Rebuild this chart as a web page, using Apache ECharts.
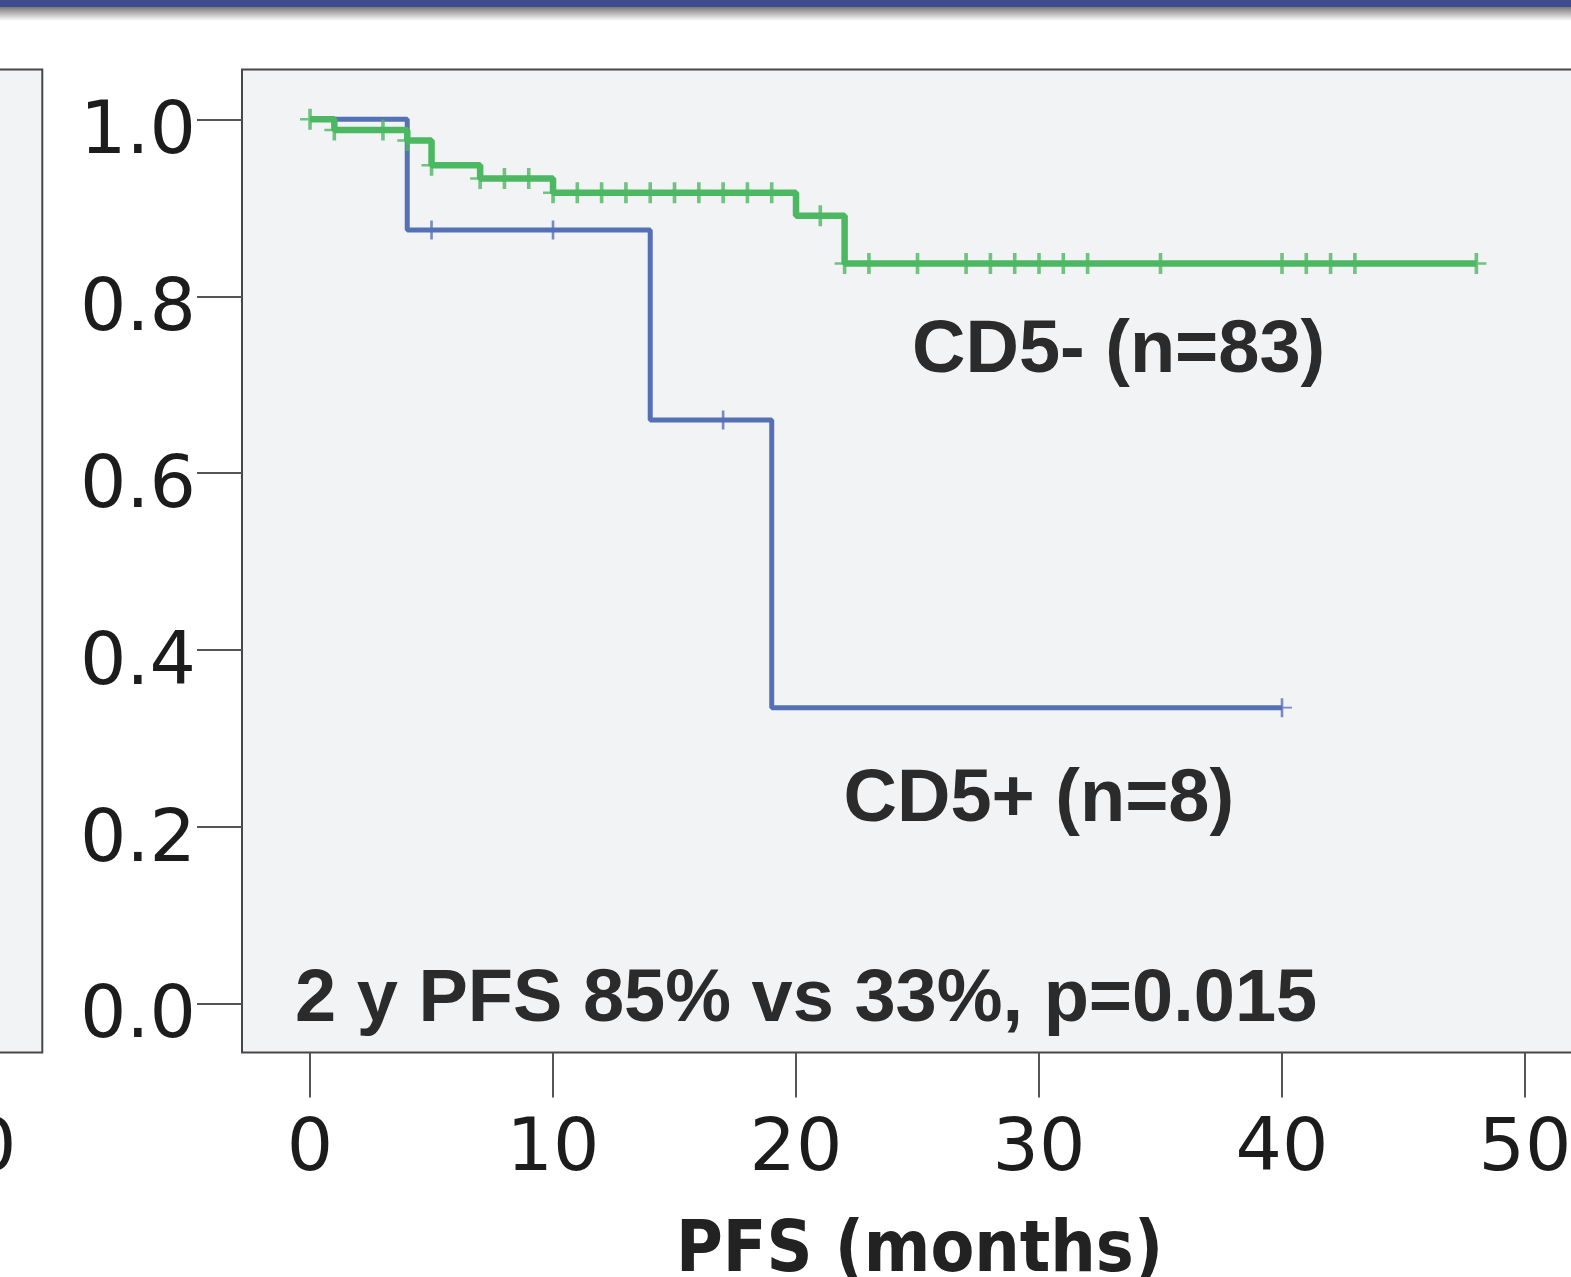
<!DOCTYPE html>
<html>
<head>
<meta charset="utf-8">
<script src="https://cdn.jsdelivr.net/npm/echarts@6/dist/echarts.min.js"></script>
<style>
html,body{margin:0;padding:0;background:#ffffff;overflow:hidden;width:1571px;height:1277px}
#c{width:1640px;height:1277px}
</style>
</head>
<body>
<div id="c"></div>
<script>
// ---- data ----
const xTicks = [0, 10, 20, 30, 40, 50];
const yTicks = [0, 0.2, 0.4, 0.6, 0.8, 1.0];

// CD5+ (n=8): event times (months) and survival after each step
const cd5PosTimes = [0, 4, 14, 19, 40];
const cd5PosSurv  = [1.0, 0.875, 0.66, 0.335, 0.335];
const cd5PosCensor = [5, 10, 17, 40];

// CD5- (n=83)
const cd5NegTimes = [0, 1, 4, 5, 7, 10, 20, 22, 48];
const cd5NegSurv  = [1.0, 0.988, 0.976, 0.948, 0.933, 0.917, 0.891, 0.837, 0.837];
const cd5NegCensor = [0, 1, 3, 4, 5, 7, 8, 9, 10, 11, 12, 13, 14, 15, 16, 17, 18, 19,
                      21, 22, 23, 25, 27, 28, 29, 30, 31, 32, 35, 40, 41, 42, 43, 48];

const labelNeg = 'CD5- (n=83)';
const labelPos = 'CD5+ (n=8)';
const statText = '2 y PFS 85% vs 33%, p=0.015';
const xName = 'PFS (months)';
const leftPanelTick = '50';

// ---- helpers ----
function stepValue(times, surv, t) {
  let v = surv[0];
  for (let i = 0; i < times.length; i++) if (times[i] <= t) v = surv[i];
  return v;
}
const curve = (times, surv) => times.map((t, i) => [t, surv[i]]);
const censors = (times, surv, cs) => cs.map(t => [t, stepValue(times, surv, t)]);

const GREEN = '#4cb862';
const BLUE = '#5571b6';
const plusThin = 'path://M-1.3,-10 L1.3,-10 L1.3,-1 L10,-1 L10,1 L1.3,1 L1.3,10 L-1.3,10 L-1.3,1 L-10,1 L-10,-1 L-1.3,-1 Z';
const plusThick = 'path://M-1.8,-10 L1.8,-10 L1.8,-1.2 L10,-1.2 L10,1.2 L1.8,1.2 L1.8,10 L-1.8,10 L-1.8,1.2 L-10,1.2 L-10,-1.2 L-1.8,-1.2 Z';

const chart = echarts.init(document.getElementById('c'), null, {renderer: 'canvas'});
const tickFont = {fontFamily: 'DejaVu Sans', fontSize: 73, color: '#1c1c1c'};
const boldFont = 'bold 74px "Liberation Sans", Arial, sans-serif';

chart.setOption({
  animation: false,
  backgroundColor: '#ffffff',
  grid: {
    left: 242, top: 69.5, width: 1369, bottom: 224.5,
    show: true, backgroundColor: '#f2f3f5', borderColor: '#474747', borderWidth: 2
  },
  xAxis: {
    type: 'value', min: -2.8, max: 53.54,
    axisLine: {show: false, onZero: false},
    splitLine: {show: false},
    axisTick: {show: true, inside: false, customValues: xTicks, length: 45, lineStyle: {color: '#555555', width: 2}},
    axisLabel: Object.assign({show: true, customValues: xTicks, margin: 62, lineHeight: 73,
      formatter: v => String(v)}, tickFont)
  },
  yAxis: {
    type: 'value', min: -0.0548, max: 1.0563,
    axisLine: {show: false, onZero: false},
    splitLine: {show: false},
    axisTick: {show: true, inside: false, customValues: yTicks, length: 45, lineStyle: {color: '#555555', width: 2}},
    axisLabel: Object.assign({show: true, customValues: yTicks, margin: 46, verticalAlign: 'top', lineHeight: 29,
      formatter: v => Number(v).toFixed(1)}, tickFont)
  },
  series: [
    {
      type: 'line', name: 'CD5+', step: 'end', data: curve(cd5PosTimes, cd5PosSurv),
      showSymbol: false, symbol: 'none', lineStyle: {color: BLUE, width: 5}, z: 3
    },
    {
      type: 'line', name: 'CD5-', step: 'end', data: curve(cd5NegTimes, cd5NegSurv),
      showSymbol: false, symbol: 'none', lineStyle: {color: GREEN, width: 6.5}, z: 4
    },
    {
      type: 'scatter', name: 'CD5+ censored', data: censors(cd5PosTimes, cd5PosSurv, cd5PosCensor),
      symbol: plusThin, symbolSize: [20, 19], itemStyle: {color: BLUE}, z: 5
    },
    {
      type: 'scatter', name: 'CD5- censored', data: censors(cd5NegTimes, cd5NegSurv, cd5NegCensor),
      symbol: plusThick, symbolSize: [20, 21], itemStyle: {color: GREEN}, z: 6
    }
  ],
  graphic: [
    {type: 'rect', z: 0, shape: {x: 0, y: 0, width: 1640, height: 7}, style: {fill: '#3e4c8e'}},
    {type: 'rect', z: 0, shape: {x: 0, y: 7, width: 1640, height: 14},
      style: {fill: new echarts.graphic.LinearGradient(0, 0, 0, 1, [
        {offset: 0, color: '#7a7a7a'}, {offset: 1, color: '#ffffff'}])}},
    {type: 'rect', z: 0, shape: {x: -10, y: 69.5, width: 52.3, height: 983},
      style: {fill: '#f2f3f5', stroke: '#474747', lineWidth: 2}},
    {type: 'text', z: 10, x: 16.5, y: 1151,
      style: {text: leftPanelTick, font: '73px "DejaVu Sans"', fill: '#1c1c1c', align: 'right', verticalAlign: 'middle'}},
    {type: 'text', z: 10, x: 912, y: 352,
      style: {text: labelNeg, font: boldFont, fill: '#2b2b2b', align: 'left', verticalAlign: 'middle'}},
    {type: 'text', z: 10, x: 843.5, y: 801,
      style: {text: labelPos, font: boldFont, fill: '#2b2b2b', align: 'left', verticalAlign: 'middle'}},
    {type: 'text', z: 10, x: 295, y: 1000.5,
      style: {text: statText, font: boldFont, fill: '#2b2b2b', align: 'left', verticalAlign: 'middle'}},
    {type: 'text', z: 10, x: 919.5, y: 1253, scaleX: 0.9, originX: 0, originY: 0,
      style: {text: xName, font: 'bold 71px "DejaVu Sans"', fill: '#222222', align: 'center', verticalAlign: 'middle'}}
  ]
});
</script>
</body>
</html>
